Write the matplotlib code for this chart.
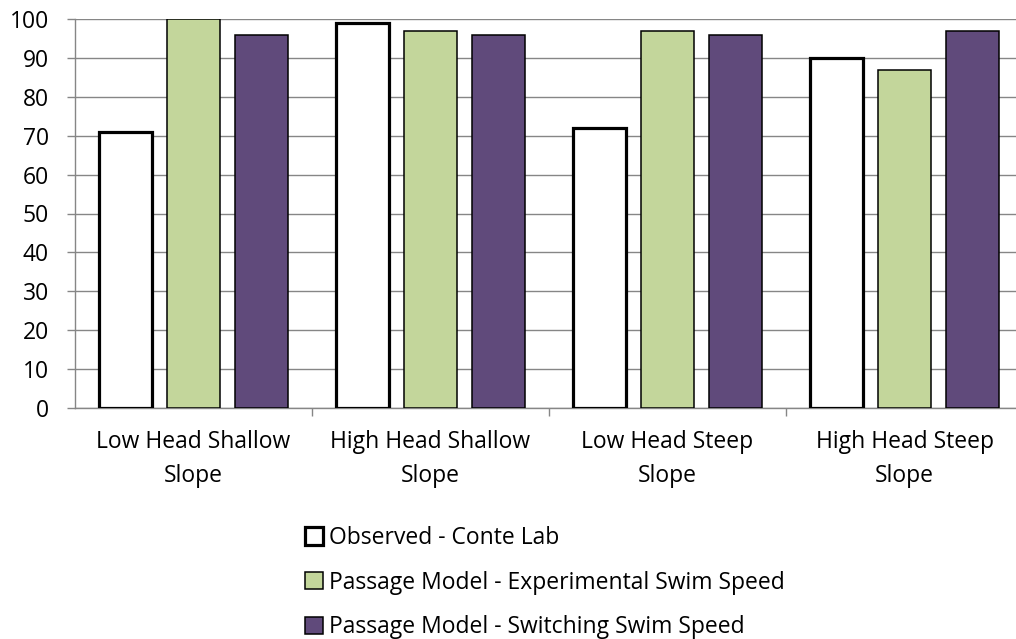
import numpy as np
import matplotlib
matplotlib.use("Agg")
import matplotlib.pyplot as plt

categories = ["Low Head Shallow\nSlope", "High Head Shallow\nSlope",
              "Low Head Steep\nSlope", "High Head Steep\nSlope"]
observed = [71, 99, 72, 90]
exp_speed = [100, 97, 97, 87]
switch_speed = [96, 96, 96, 97]

plt.rcParams["font.family"] = ["Open Sans", "DejaVu Sans"]
FS = 16.5

fig = plt.figure(figsize=(10.16, 6.39), dpi=100)
ax = fig.add_axes([75 / 1016, 1 - 408 / 639, 948 / 1016, 389 / 639])

x = np.arange(len(categories))
off = 0.287
w = 0.224
ax.bar(x - off, observed, w, color="white", edgecolor="black", linewidth=2.3,
       label="Observed - Conte Lab", zorder=3)
ax.bar(x, exp_speed, w, color="#C3D69B", edgecolor="black", linewidth=1.1,
       label="Passage Model - Experimental Swim Speed", zorder=3)
ax.bar(x + off, switch_speed, w, color="#604A7B", edgecolor="black", linewidth=1.1,
       label="Passage Model - Switching Swim Speed", zorder=3)

ax.set_xlim(-0.5, 3.5)
ax.set_ylim(0, 100)
ax.set_yticks(range(0, 101, 10))
ax.yaxis.grid(True, color="#868686", linewidth=1.0, zorder=0)
ax.set_axisbelow(True)

ax.set_xticks([0.5, 1.5, 2.5], minor=False)
ax.set_xticklabels([])
ax.set_xticks(x, minor=True)
ax.set_xticklabels(categories, minor=True, fontsize=FS, linespacing=1.55)
ax.tick_params(axis="x", which="minor", length=0, pad=16)
ax.tick_params(axis="x", which="major", length=5.8, color="#868686", width=1)
ax.tick_params(axis="y", length=5.8, color="#868686", width=1, labelsize=FS, pad=13)

for s in ["top", "right"]:
    ax.spines[s].set_visible(False)
for s in ["left", "bottom"]:
    ax.spines[s].set_color("#868686")
    ax.spines[s].set_linewidth(1)

fig.legend(loc="upper left", bbox_to_anchor=(305 / 1016, 1 - 526 / 639),
           frameon=False, fontsize=FS, handlelength=0.79, handleheight=0.79,
           handletextpad=0.27, labelspacing=0.9, borderpad=0, borderaxespad=0)

fig.savefig("out.png", dpi=100)
